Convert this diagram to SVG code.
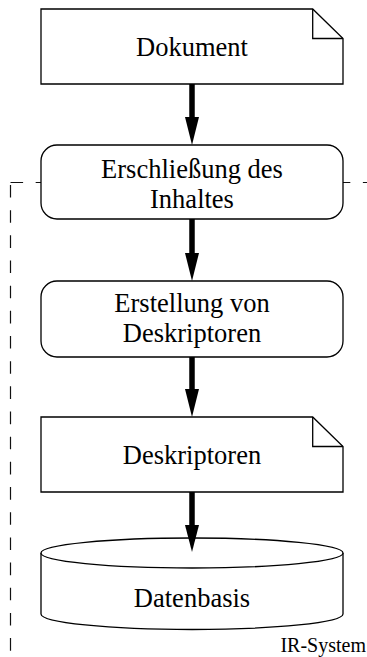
<svg xmlns="http://www.w3.org/2000/svg" width="367" height="657" viewBox="0 0 367 657">
<style>
.box{fill:#fff;stroke:#000;stroke-width:1.3}
.fold{fill:none;stroke:#000;stroke-width:1.3}
.t{font-family:"Liberation Serif","Times New Roman",serif;font-size:26.5px;fill:#000;text-anchor:middle}
.lbl{font-family:"Liberation Serif","Times New Roman",serif;font-size:20px;fill:#000;text-anchor:end}
.dash{fill:none;stroke:#111;stroke-width:1.2;stroke-dasharray:12.6 12.57}
.shaft{stroke:#000;stroke-width:5.5}
</style>
<g id="boundary">
<path class="dash" d="M10.5 182.5 H367"/>
<path class="dash" d="M10.5 182.5 V657" stroke-dashoffset="22.67"/>
<text class="lbl" x="366" y="652">IR-System</text>
</g>
<g id="connectors">
<line class="shaft" x1="192" y1="84" x2="192" y2="119"/>
<polygon points="185,117 199,117 192,145"/>
<line class="shaft" x1="192" y1="219" x2="192" y2="255"/>
<polygon points="185,253 199,253 192,281"/>
<line class="shaft" x1="192" y1="357" x2="192" y2="391"/>
<polygon points="185,389 199,389 192,417"/>
<line class="shaft" x1="192" y1="492" x2="192" y2="527"/>
</g>
<g id="dokument">
<path class="box" d="M41 9 H312.7 L343 38.5 V84 H41 Z"/>
<path class="fold" d="M312.7 9 V38.5 H343"/>
<text class="t" x="192" y="56">Dokument</text>
</g>
<g id="erschliessung">
<rect class="box" x="41" y="145" width="302" height="74" rx="16" ry="16"/>
<text class="t" x="192" y="178">Erschließung des</text>
<text class="t" x="192" y="208">Inhaltes</text>
</g>
<g id="erstellung">
<rect class="box" x="41" y="281" width="302" height="76" rx="16" ry="16"/>
<text class="t" x="192" y="312">Erstellung von</text>
<text class="t" x="192" y="342">Deskriptoren</text>
</g>
<g id="deskriptoren">
<path class="box" d="M41 417 H312.7 L343 446.5 V492 H41 Z"/>
<path class="fold" d="M312.7 417 V446.5 H343"/>
<text class="t" x="192" y="464">Deskriptoren</text>
</g>
<g id="datenbasis">
<path class="box" d="M41 553 V614 A151 15.5 0 0 0 343 614 V553"/>
<ellipse class="box" cx="192" cy="553" rx="151" ry="15"/>
<text class="t" x="192" y="607">Datenbasis</text>
</g>
<g id="arrowhead-last">
<polygon points="185,525 199,525 192,552"/>
</g>
</svg>
